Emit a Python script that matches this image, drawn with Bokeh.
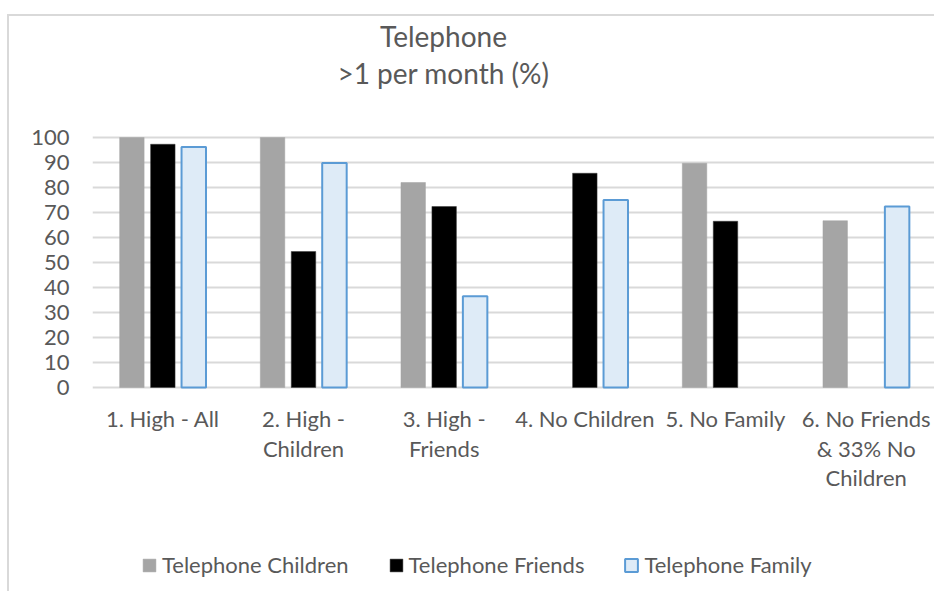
from bokeh.plotting import figure
from bokeh.models import FactorRange, Range1d, Legend, LegendItem, FixedTicker, ColumnDataSource
from bokeh.core.properties import value
from bokeh.transform import dodge
from bokeh.embed import file_html
from bokeh.resources import INLINE

# Contact groups and the share of respondents phoning each kind of contact
categories = [
    "1. High - All",
    "2. High -\nChildren",
    "3. High -\nFriends",
    "4. No Children",
    "5. No Family",
    "6. No Friends\n& 33% No\nChildren",
]
# None = no bar for that group
telephone_children = [100, 100, 82.0, None, 89.7, 66.7]
telephone_friends = [97.3, 54.4, 72.4, 85.7, 66.5, None]
telephone_family = [96.2, 89.8, 36.5, 75.0, None, 72.4]
y_ticks = [0, 10, 20, 30, 40, 50, 60, 70, 80, 90, 100]
title_lines = ["Telephone", ">1 per month (%)"]
series_names = ["Telephone Children", "Telephone Friends", "Telephone Family"]

FONT = "Lato"
TEXT = "#595959"
GRID = "#d9d9d9"

W, H = 927, 577
LEFT = 83                 # room for the value axis
PX_PER_UNIT = 2.5         # vertical scale of the value axis
ZERO_FROM_TOP = 371       # pixel row of the 0 line inside the canvas
y_top = ZERO_FROM_TOP / PX_PER_UNIT
y_bottom = -(H - ZERO_FROM_TOP) / PX_PER_UNIT

p = figure(
    width=W, height=H,
    x_range=FactorRange(*categories), y_range=Range1d(y_bottom, y_top),
    output_backend="svg", toolbar_location=None,
    min_border_left=LEFT, min_border_right=0,
    min_border_top=0, min_border_bottom=0,
)
p.title.visible = False
p.styles = {
    "margin-left": "7px", "margin-top": "14px",
    "border-left": "2px solid #d9d9d9", "border-top": "2px solid #d9d9d9",
}
p.outline_line_color = None
p.background_fill_color = "white"
p.border_fill_color = "white"

def nan_for_missing(vals):
    return [float("nan") if v is None else v for v in vals]

src = ColumnDataSource(dict(cat=categories,
                            ch=nan_for_missing(telephone_children),
                            fr=nan_for_missing(telephone_friends),
                            fa=nan_for_missing(telephone_family)))
w = 0.174
r_ch = p.vbar(x=dodge("cat", -0.22, range=p.x_range), top="ch", width=w, source=src,
              fill_color="#a5a5a5", line_color="#a5a5a5", line_width=0.5)
r_fr = p.vbar(x=dodge("cat", 0.0, range=p.x_range), top="fr", width=w, source=src,
              fill_color="#000000", line_color="#3a3a3a", line_width=0.5)
r_fa = p.vbar(x=dodge("cat", 0.22, range=p.x_range), top="fa", width=w, source=src,
              fill_color="#deebf7", line_color="#5b9bd5", line_width=2)

# horizontal gridlines at the value ticks only
p.xgrid.grid_line_color = None
p.ygrid.grid_line_color = GRID
p.ygrid.grid_line_width = 2
p.yaxis.ticker = FixedTicker(ticks=y_ticks)

# value axis: labels only
p.yaxis.axis_line_color = None
p.yaxis.major_tick_line_color = None
p.yaxis.minor_tick_line_color = None
p.yaxis.major_label_standoff = 17
p.yaxis.major_label_text_font = FONT
p.yaxis.major_label_text_font_size = "22px"
p.yaxis.major_label_text_color = TEXT

# category labels under the 0 line, one text row per line
p.xaxis.visible = False
first_baseline_px = 31    # below the 0 line
line_step_px = 29.5
lx, ly, lt = [], [], []
for cat in categories:
    for k, line in enumerate(cat.split("\n")):
        lx.append(cat)
        ly.append(-(first_baseline_px + k * line_step_px) / PX_PER_UNIT)
        lt.append(line)
p.text(x=lx, y=ly, text=lt, text_align="center", text_baseline="alphabetic",
       text_font=value(FONT), text_font_size="22px", text_color=TEXT)

# two-line chart title, centred over the chart area
title_center = 2.495
title_baselines_px = [352, 315]   # above the 0 line
p.text(x=[title_center] * 2, y=[b / PX_PER_UNIT for b in title_baselines_px],
       text=title_lines, text_align="center", text_baseline="alphabetic",
       text_font=value(FONT), text_font_size="28px", text_color=TEXT)

legend = Legend(
    items=[LegendItem(label=n, renderers=[r]) for n, r in zip(series_names, [r_ch, r_fr, r_fa])],
    orientation="horizontal", location=(49, 15),
    padding=0, margin=0, spacing=39,
    glyph_width=16, glyph_height=16, label_standoff=5,
    label_text_font=FONT, label_text_font_size="22px", label_text_color=TEXT,
    border_line_color=None, background_fill_alpha=0,
)
p.add_layout(legend, "center")

open("out.html", "w").write(file_html(p, INLINE))
